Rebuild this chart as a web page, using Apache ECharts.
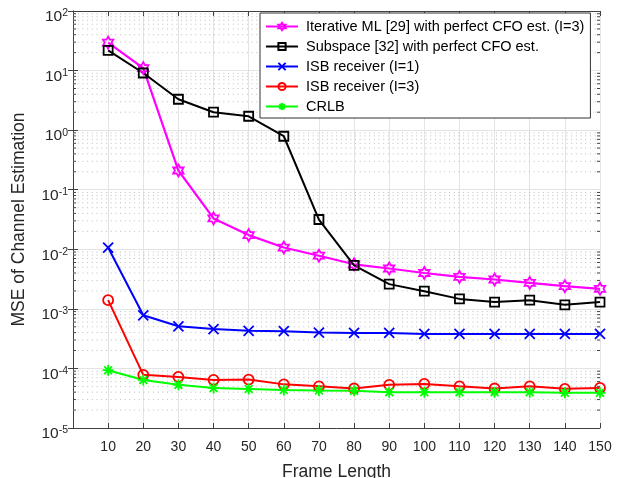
<!DOCTYPE html>
<html>
<head>
<meta charset="utf-8">
<script src="https://cdn.jsdelivr.net/npm/echarts@6/dist/echarts.min.js"></script>
<style>
  html, body { margin: 0; padding: 0; background: #fff; }
  #chart { width: 618px; height: 478px; }
</style>
</head>
<body>
<div id="chart"></div>
<script>
var frameLen = [10, 20, 30, 40, 50, 60, 70, 80, 90, 100, 110, 120, 130, 140, 150];

var iterML = [29.5, 11, 0.21, 0.033, 0.0173, 0.0107, 0.0078, 0.0056, 0.00476, 0.0040, 0.00344, 0.00311, 0.00273, 0.0024, 0.00217];
var subspace = [21.9, 9.1, 3.3, 2.0, 1.71, 0.79, 0.0316, 0.00535, 0.0026, 0.00198, 0.00147, 0.0013, 0.0014, 0.00117, 0.0013];
var isb1 = [0.0107, 0.00078, 0.00051, 0.000457, 0.000428, 0.000422, 0.0004, 0.000395, 0.000395, 0.00038, 0.00038, 0.00038, 0.00038, 0.00038, 0.00038];
var isb3 = [0.0014, 7.8e-5, 7.2e-5, 6.4e-5, 6.5e-5, 5.4e-5, 5.0e-5, 4.6e-5, 5.3e-5, 5.5e-5, 5.0e-5, 4.6e-5, 5.0e-5, 4.55e-5, 4.7e-5];
var crlb = [9.35e-5, 6.4e-5, 5.3e-5, 4.7e-5, 4.5e-5, 4.33e-5, 4.25e-5, 4.2e-5, 4.0e-5, 4.0e-5, 4.0e-5, 4.0e-5, 4.0e-5, 3.9e-5, 3.9e-5];

var names = [
    'Iterative ML [29] with perfect CFO est. (I=3)',
    'Subspace [32] with perfect CFO est.',
    'ISB receiver (I=1)',
    'ISB receiver (I=3)',
    'CRLB'
];

// marker shapes (matlab style)
var hexagram = 'path://M10,0L12.887,5L18.66,5L15.774,10L18.66,15L12.887,15L10,20L7.113,15L1.34,15L4.226,10L1.34,5L7.113,5Z';
var xMark = 'path://M0,0L20,20M20,0L0,20';
var asterisk = 'path://M10,0L10,20M0,10L20,10M2.93,2.93L17.07,17.07M17.07,2.93L2.93,17.07';

// minor log grid lines (2..9 in each decade)
var minorVals = [];
for (var e = -5; e < 2; e++) {
    for (var m = 2; m <= 9; m++) {
        minorVals.push([0, m * Math.pow(10, e)]);
    }
}

function pairs(arr) {
    return arr.map(function (v, i) { return [frameLen[i], v]; });
}

var axisColor = '#404040';
var font = 'Liberation Sans';

function mk(name, data, color, symbol, size, width) {
    return {
        name: name,
        type: 'line',
        data: pairs(data),
        symbol: symbol,
        symbolSize: size,
        symbolKeepAspect: true,
        z: 3,
        lineStyle: { color: color, width: width },
        itemStyle: { color: 'rgba(0,0,0,0)', borderColor: color, borderWidth: 1.8 }
    };
}

var chart = echarts.init(document.getElementById('chart'));
chart.setOption({
    animation: false,
    textStyle: { fontFamily: font },
    grid: { left: 73, right: 18, top: 11, bottom: 50, outerBoundsMode: 'none', containLabel: false },
    legend: {
        orient: 'vertical',
        left: 260,
        top: 13,
        padding: [5, 6, 3, 5],
        itemGap: 3,
        itemWidth: 32,
        itemHeight: 9,
        backgroundColor: '#fff',
        borderColor: '#333',
        borderWidth: 1,
        textStyle: { fontSize: 14.5, lineHeight: 17, color: '#000', fontFamily: font, padding: [0, 0, 0, 3] },
        data: names
    },
    xAxis: [{
        type: 'value',
        min: 0,
        max: 150,
        interval: 10,
        name: 'Frame Length',
        nameLocation: 'middle',
        nameGap: 35,
        nameTextStyle: { fontSize: 17.5, color: '#262626' },
        axisLine: { lineStyle: { color: axisColor, width: 1 } },
        axisTick: { inside: true, length: 5, lineStyle: { color: axisColor } },
        axisLabel: {
            margin: 12,
            fontSize: 14,
            color: '#262626',
            formatter: function (v) { return v === 0 ? '' : v; }
        },
        splitLine: { lineStyle: { color: '#e3e3e3', width: 1 } }
    }, {
        type: 'value',
        position: 'top',
        min: 0,
        max: 150,
        interval: 10,
        axisLine: { show: true, lineStyle: { color: axisColor, width: 1 } },
        axisTick: { inside: true, length: 5, lineStyle: { color: axisColor } },
        axisLabel: { show: false },
        splitLine: { show: false }
    }],
    yAxis: [{
        type: 'log',
        logBase: 10,
        min: 1e-5,
        max: 1e2,
        interval: 1,
        name: 'MSE of Channel Estimation',
        nameLocation: 'middle',
        nameGap: 45,
        nameTextStyle: { fontSize: 17.5, color: '#262626' },
        axisLine: { show: true, lineStyle: { color: axisColor, width: 1 } },
        axisTick: { inside: true, length: 5, lineStyle: { color: axisColor } },
        axisLabel: {
            margin: 5,
            padding: [12, 0, 0, 0],
            formatter: function (v) {
                var ex = Math.round(Math.log(v) / Math.LN10);
                return '{b|10}{e|' + ex + '}';
            },
            rich: {
                b: { fontSize: 15.5, lineHeight: 18, color: '#262626', fontFamily: font },
                e: { fontSize: 10.5, lineHeight: 6, verticalAlign: 'top', color: '#262626', fontFamily: font }
            }
        },
        splitLine: { lineStyle: { color: '#e3e3e3', width: 1 } }
    }, {
        type: 'log',
        logBase: 10,
        position: 'right',
        min: 1e-5,
        max: 1e2,
        interval: 1,
        axisLine: { show: true, lineStyle: { color: axisColor, width: 1 } },
        axisTick: { inside: true, length: 5, lineStyle: { color: axisColor } },
        axisLabel: { show: false },
        splitLine: { show: false }
    }],
    series: [
        {
            name: 'minor',
            type: 'custom',
            z: 1,
            silent: true,
            data: minorVals,
            renderItem: function (params, api) {
                var p0 = api.coord([0, api.value(1)]);
                var p1 = api.coord([150, api.value(1)]);
                return {
                    type: 'group',
                    children: [{
                        type: 'line',
                        shape: { x1: p0[0], y1: p0[1], x2: p1[0], y2: p1[1] },
                        style: { stroke: '#bdbdbd', lineWidth: 1, lineDash: [1, 3.7] }
                    }, {
                        type: 'line',
                        shape: { x1: p0[0], y1: p0[1], x2: p0[0] + 3, y2: p0[1] },
                        style: { stroke: axisColor, lineWidth: 1 }
                    }, {
                        type: 'line',
                        shape: { x1: p1[0] - 3, y1: p1[1], x2: p1[0], y2: p1[1] },
                        style: { stroke: axisColor, lineWidth: 1 }
                    }]
                };
            }
        },
        mk(names[0], iterML, '#ff00ff', hexagram, 12, 2.2),
        mk(names[1], subspace, '#000000', 'rect', 9, 2),
        mk(names[2], isb1, '#0000ff', xMark, 10, 2),
        mk(names[3], isb3, '#ff0000', 'circle', 10, 2),
        mk(names[4], crlb, '#00ff00', asterisk, 11, 2)
    ]
});
</script>
</body>
</html>
